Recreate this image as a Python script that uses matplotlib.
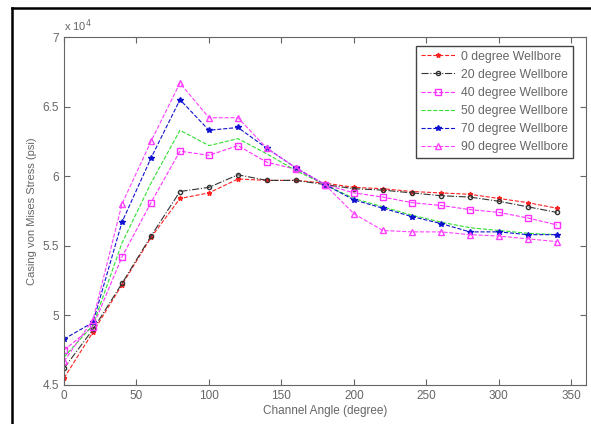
import matplotlib
matplotlib.use("Agg")
import matplotlib.pyplot as plt
from matplotlib.lines import Line2D

plt.rcParams['font.family'] = ['Liberation Sans', 'DejaVu Sans']

# channel angle (degree)
angle = [0, 20, 40, 60, 80, 100, 120, 140, 160, 180, 200, 220, 240, 260, 280, 300, 320, 340]

# casing von Mises stress, in units of 10^4 psi
w0 = [4.55, 4.88, 5.22, 5.56, 5.84, 5.88, 5.98, 5.97, 5.97, 5.95, 5.92, 5.91, 5.89, 5.88, 5.87, 5.84, 5.81, 5.77]
w20 = [4.62, 4.90, 5.23, 5.57, 5.89, 5.92, 6.01, 5.97, 5.97, 5.94, 5.91, 5.90, 5.88, 5.86, 5.85, 5.82, 5.78, 5.74]
w40 = [4.75, 4.92, 5.42, 5.81, 6.18, 6.15, 6.22, 6.10, 6.05, 5.94, 5.88, 5.85, 5.81, 5.79, 5.76, 5.74, 5.70, 5.65]
w50 = [4.70, 4.93, 5.52, 5.95, 6.33, 6.22, 6.27, 6.16, 6.04, 5.94, 5.84, 5.78, 5.72, 5.67, 5.63, 5.61, 5.59, 5.58]
w70 = [4.83, 4.95, 5.67, 6.13, 6.55, 6.33, 6.35, 6.20, 6.06, 5.94, 5.83, 5.77, 5.71, 5.66, 5.60, 5.60, 5.58, 5.58]
w90 = [4.67, 4.97, 5.80, 6.25, 6.67, 6.42, 6.42, 6.20, 6.06, 5.94, 5.73, 5.61, 5.60, 5.60, 5.58, 5.57, 5.55, 5.53]

labels = ["0 degree Wellbore", "20 degree Wellbore", "40 degree Wellbore",
          "50 degree Wellbore", "70 degree Wellbore", "90 degree Wellbore"]

fig = plt.figure(figsize=(5.91, 4.24), dpi=100)
ax = fig.add_axes([0.1083, 0.092, 0.883, 0.8207])

txt = "#666666"
ax.plot(angle, w0, color="#ff2020", ls="--", marker="*", ms=3.5, lw=0.8, label=labels[0])
ax.plot(angle, w20, color="#333333", ls="-.", marker="o", ms=3, mfc="none", lw=0.8, label=labels[1])
ax.plot(angle, w40, color="#ff30ff", ls="--", marker="s", ms=4.5, mfc="none", lw=0.8, label=labels[2])
ax.plot(angle, w50, color="#30e030", ls="--", lw=0.8, label=labels[3])
ax.plot(angle, w70, color="#1010d0", ls="--", marker="*", ms=4, lw=0.8, label=labels[4])
ax.plot(angle, w90, color="#ff40ff", ls="--", marker="^", ms=4.5, mfc="none", lw=0.8, label=labels[5])

ax.set_xlim(0, 360)
ax.set_ylim(4.5, 7)
ax.set_xticks([0, 50, 100, 150, 200, 250, 300, 350])
ax.set_yticks([4.5, 5, 5.5, 6, 6.5, 7])
ax.set_yticklabels(["4.5", "5", "5.5", "6", "6.5", "7"])
ax.tick_params(direction="in", top=True, right=True, labelsize=8.5, colors=txt, length=4)
for s in ax.spines.values():
    s.set_color("#666666")
    s.set_linewidth(0.8)

ax.set_xlabel("Channel Angle (degree)", fontsize=8.5, color=txt, labelpad=2)
ax.set_ylabel("Casing von Mises Stress (psi)", fontsize=8, color=txt, labelpad=4)
ax.text(0.0, 1.01, r"x 10$^4$", transform=ax.transAxes, fontsize=8, color=txt, ha="left", va="bottom")

leg = ax.legend(loc="upper right", bbox_to_anchor=(0.975, 0.975), fontsize=8.8,
                labelspacing=0.5, handlelength=2.8, handletextpad=0.5, borderaxespad=0,
                fancybox=False, framealpha=1, edgecolor="#444444")
for t in leg.get_texts():
    t.set_color(txt)

# outer frame of the picture
fig.add_artist(Line2D([12 / 591, 12 / 591], [0, 1 - 8 / 424], color="black", lw=1.8, transform=fig.transFigure))
fig.add_artist(Line2D([12 / 591, 1], [1 - 8 / 424, 1 - 8 / 424], color="black", lw=1.8, transform=fig.transFigure))

fig.savefig("out.png", dpi=100)
